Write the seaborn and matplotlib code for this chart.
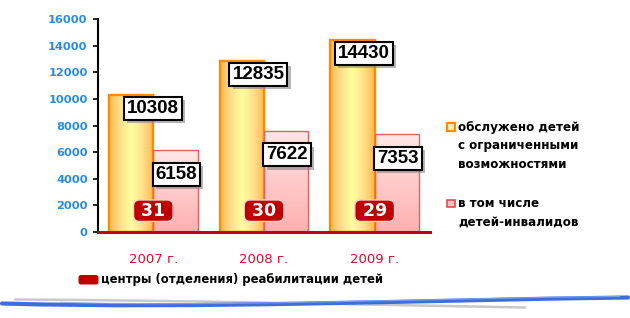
import numpy as np
import pandas as pd
import matplotlib
matplotlib.use("Agg")
import matplotlib.pyplot as plt
import seaborn as sns
import matplotlib.patheffects as pe
from matplotlib.colors import LinearSegmentedColormap
from matplotlib.patches import Rectangle, FancyBboxPatch, PathPatch
from matplotlib.path import Path

# ---------------- data ----------------
years = ["2007 г.", "2008 г.", "2009 г."]
served = [10308, 12835, 14430]
disabled = [6158, 7622, 7353]
centers = [31, 30, 29]
series_names = ["обслужено детей с ограниченными возможностями",
                "в том числе детей-инвалидов"]
legend_served = ["обслужено детей", "с ограниченными", "возможностями"]
legend_disabled = ["в том числе", "детей-инвалидов"]
legend_centers = "центры (отделения) реабилитации детей"
yticks = [0, 2000, 4000, 6000, 8000, 10000, 12000, 14000, 16000]

df = pd.DataFrame({
    "year": years * 2,
    "value": served + disabled,
    "series": [series_names[0]] * 3 + [series_names[1]] * 3,
})

# ---------------- style ----------------
sns.set_style("white")
plt.rcParams["font.family"] = ["DejaVu Sans"]

W, H = 630, 318
fig = plt.figure(figsize=(W / 100, H / 100), dpi=100)
fig.patch.set_facecolor("white")

ax = fig.add_axes([98 / W, 1 - 232 / H, 332 / W, 213 / H])
ax.patch.set_alpha(0)

sns.barplot(data=df, x="year", y="value", hue="series", order=years,
            hue_order=series_names, palette=["#ffd77a", "#ffc8c8"],
            width=0.8, legend=False, ax=ax, saturation=1)

cm_orange = LinearSegmentedColormap.from_list(
    "o", ["#ffb850", "#ffe08a", "#ffff9f", "#ffe08a", "#ffb850"])
cm_pink = LinearSegmentedColormap.from_list(
    "p", ["#ffe8e8", "#ffcaca", "#ffb0b0"])

grad_h = np.linspace(0, 1, 256).reshape(1, -1)
grad_v = np.linspace(0, 1, 256).reshape(-1, 1)

for bar in ax.containers[0]:
    x0, y0, w, h = bar.get_x(), bar.get_y(), bar.get_width(), bar.get_height()
    im = ax.imshow(grad_h, extent=[x0, x0 + w, y0, y0 + h], aspect="auto",
                   cmap=cm_orange, zorder=1, interpolation="bicubic")
    im.set_clip_path(bar)
    bar.set_facecolor("none")
    bar.set_edgecolor("#ff8c00")
    bar.set_linewidth(1.7)
    bar.set_zorder(2)

for bar in ax.containers[1]:
    x0, y0, w, h = bar.get_x(), bar.get_y(), bar.get_width(), bar.get_height()
    im = ax.imshow(grad_v, extent=[x0, x0 + w, y0, y0 + h], aspect="auto",
                   cmap=cm_pink, zorder=1, interpolation="bicubic")
    im.set_clip_path(bar)
    bar.set_facecolor("none")
    bar.set_edgecolor("#dc6464")
    bar.set_linewidth(1.0)
    bar.set_zorder(2)

ax.set_xlim(-0.5, 2.5)
ax.set_ylim(0, 16000)
ax.set_yticks(yticks)
ax.set_yticklabels([str(v) for v in yticks], color="#2a8ce0",
                   fontweight="bold", fontsize=8.2)
ax.set_xticks(range(3))
ax.set_xticklabels(years, color="#cc1030", fontsize=9.5)
ax.set_xticks([-0.5, 0.5, 1.5, 2.5], minor=True)
ax.tick_params(axis="x", which="major", length=0, pad=15)
ax.tick_params(axis="x", which="minor", length=4, width=1.6,
               color="#c00000", direction="out")
ax.tick_params(axis="y", length=3.5, width=1.2, color="black",
               direction="out", pad=4, left=True)
ax.set_xlabel("")
ax.set_ylabel("")
for s in ["top", "right"]:
    ax.spines[s].set_visible(False)
ax.spines["left"].set_color("black")
ax.spines["left"].set_linewidth(1.5)
ax.spines["bottom"].set_color("#c00000")
ax.spines["bottom"].set_linewidth(2.2)
ax.spines["bottom"].set_zorder(5)

# value labels
label_dx_served = [0.0, -0.05, -0.1]
vfont = dict(family=["Liberation Sans", "DejaVu Sans"], fontweight="bold",
             fontsize=13.5, color="black")


def value_box(x, y, dy, txt):
    t = ax.annotate(txt, xy=(x, y), xytext=(0, dy), textcoords="offset points",
                    ha="center", va="center", zorder=7, **vfont,
                    bbox=dict(boxstyle="square,pad=0.16", fc="white",
                              ec="black", lw=1.5))
    t.get_bbox_patch().set_path_effects(
        [pe.SimplePatchShadow(offset=(2.2, -2.2), shadow_rgbFace="#7a7a7a",
                              alpha=0.55), pe.Normal()])


for i, v in enumerate(served):
    value_box(i + label_dx_served[i], v, -9.7, str(v))
for i, v in enumerate(disabled):
    value_box(i + 0.21, v, -17.6, str(v))

for i, v in enumerate(centers):
    ax.text(i, 1600, f" {v} ", ha="center", va="center", color="white",
            fontsize=12.5, fontweight="bold", zorder=8,
            bbox=dict(boxstyle="round,pad=0.1,rounding_size=0.35",
                      fc="#c00000", ec="#f4d0d0", lw=1.0))

# ---------------- overlay in pixel coords ----------------
ov = fig.add_axes([0, 0, 1, 1])
ov.set_xlim(0, W)
ov.set_ylim(H, 0)
ov.axis("off")
ov.patch.set_alpha(0)

lfont = dict(fontsize=8.6, fontweight="bold", color="black",
             va="center", ha="left")

ov.add_patch(Rectangle((447, 123), 8, 8, fc="#fff2c0", ec="#ff8c00", lw=1.6))
for k, line in enumerate(legend_served):
    ov.text(458, 127 + 19 * k, line, **lfont)

ov.add_patch(Rectangle((447, 199.5), 7.5, 7.5, fc="#ffc0c0", ec="#dc5050", lw=1.2))
for k, line in enumerate(legend_disabled):
    ov.text(458, 203.5 + 19 * k, line, **lfont)

ov.add_patch(FancyBboxPatch((78.5, 275), 20, 9.5,
                            boxstyle="round,pad=0,rounding_size=2.5",
                            fc="#c00000", ec="none"))
ov.text(101, 279.5, legend_centers, fontsize=8.35, fontweight="bold",
        color="black", va="center", ha="left")

# decorative swoosh
gray = Path([(15, 299.5), (200, 300.5), (380, 305), (525, 307.5)],
            [Path.MOVETO, Path.CURVE4, Path.CURVE4, Path.CURVE4])
ov.add_patch(PathPatch(gray, fc="none", ec="#c9c9c9", lw=1.8, capstyle="round"))
blue = Path([(2, 303.5), (200, 309), (420, 300), (628, 297.5)],
            [Path.MOVETO, Path.CURVE4, Path.CURVE4, Path.CURVE4])
ov.add_patch(PathPatch(blue, fc="none", ec="#3d6fdc", lw=3.0, capstyle="round"))
blue_hi = Path([(60, 302.3), (220, 307.0), (420, 298.6), (620, 296.4)],
               [Path.MOVETO, Path.CURVE4, Path.CURVE4, Path.CURVE4])
ov.add_patch(PathPatch(blue_hi, fc="none", ec="#8aaaf0", lw=0.8, alpha=0.8))

fig.savefig("out.png", dpi=100, facecolor="white")
